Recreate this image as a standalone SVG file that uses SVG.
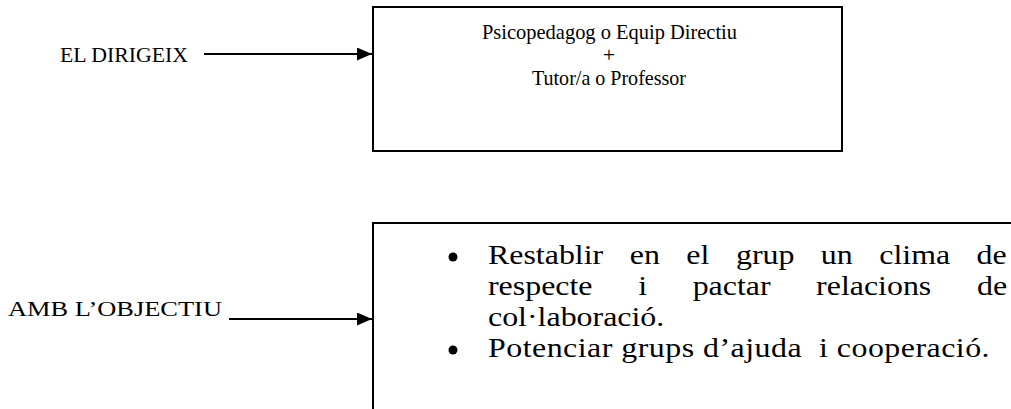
<svg xmlns="http://www.w3.org/2000/svg" width="1011" height="409" viewBox="0 0 1011 409">
<defs>
<marker id="ah" markerWidth="15" markerHeight="13" refX="15" refY="6.5" orient="auto" markerUnits="userSpaceOnUse">
<path d="M0,0 L15,6.5 L0,13 Z" fill="#000"/>
</marker>
<style>
.t{font-family:"Liberation Serif","Times New Roman",serif;fill:#000}
.s{font-size:22px}
.l{font-size:22px}
.b{font-size:28px}
.box{fill:#fff;stroke:#000;stroke-width:2}
.c{stroke:#000;stroke-width:2;fill:none}
</style>
</defs>
<rect width="1011" height="409" fill="#fff"/>
<g id="label-dirigeix"><text class="t l" x="60" y="62" textLength="128" lengthAdjust="spacingAndGlyphs">EL DIRIGEIX</text></g>
<g id="label-objectiu"><text class="t l" x="8" y="316" textLength="214" lengthAdjust="spacingAndGlyphs">AMB L’OBJECTIU</text></g>
<g id="node-dirigeix">
<rect class="box" x="373" y="7" width="469" height="144"/>
<text class="t s" x="482" y="39" textLength="255" lengthAdjust="spacingAndGlyphs">Psicopedagog o Equip Directiu</text>
<text class="t s" text-anchor="middle" x="609" y="62">+</text>
<text class="t s" x="532" y="85" textLength="154" lengthAdjust="spacingAndGlyphs">Tutor/a o Professor</text>
</g>
<g id="node-objectiu">
<rect class="box" x="373" y="223" width="660" height="220"/>
<circle cx="453" cy="257" r="4.5" fill="#000"/>
<circle cx="453" cy="350" r="4.5" fill="#000"/>
<g transform="translate(488,0) scale(1.14,1) translate(-488,0)">
<text class="t b" y="264"><tspan x="488">Restablir</tspan><tspan x="612.4">en</tspan><tspan x="662">el</tspan><tspan x="705.5">grup</tspan><tspan x="780">un</tspan><tspan x="831.2">clima</tspan><tspan x="916.6">de</tspan></text>
<text class="t b" y="295"><tspan x="488">respecte</tspan><tspan x="619.7">i</tspan><tspan x="667.5">pactar</tspan><tspan x="775.8">relacions</tspan><tspan x="916.9">de</tspan></text>
<text class="t b" x="488" y="326">col·laboració.</text>
<text class="t b" x="488" y="357" xml:space="preserve" textLength="440" lengthAdjust="spacing">Potenciar grups d’ajuda  i cooperació.</text>
</g>
</g>
<g id="connectors">
<line class="c" x1="204" y1="54" x2="372" y2="54" marker-end="url(#ah)"/>
<line class="c" x1="229" y1="319" x2="372" y2="319" marker-end="url(#ah)"/>
</g>
</svg>
